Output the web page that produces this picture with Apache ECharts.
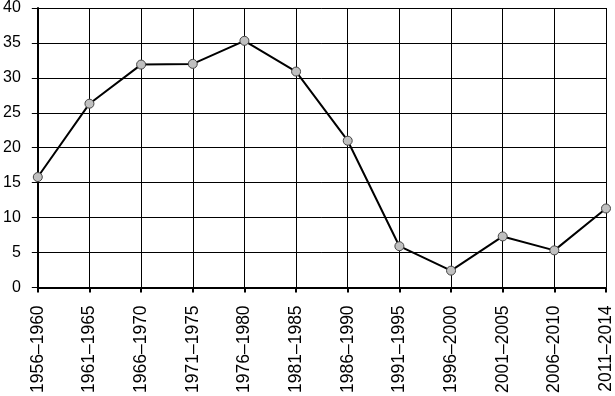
<!DOCTYPE html>
<html><head><meta charset="utf-8">
<script src="https://cdn.jsdelivr.net/npm/echarts@6/dist/echarts.min.js"></script>
<style>html,body{margin:0;padding:0;background:#fff}#c{width:615px;height:396px}</style>
</head><body><div id="c"></div>
<script>
const categories = ['1956–1960','1961–1965','1966–1970','1971–1975','1976–1980','1981–1985','1986–1990','1991–1995','1996–2000','2001–2005','2006–2010','2011–2014'];
const values = [15.8, 26.3, 31.9, 32.0, 35.3, 30.9, 21.0, 5.9, 2.4, 7.3, 5.3, 11.3];
const yTicks = [0,5,10,15,20,25,30,35,40];

const chart = echarts.init(document.getElementById('c'), null, {renderer:'canvas'});
chart.setOption({
  animation:false,
  backgroundColor:'#fff',
  grid:{left:37,right:5,top:8,bottom:108,containLabel:false},
  xAxis:{type:'category',data:categories,boundaryGap:false,
    axisLine:{lineStyle:{color:'#000',width:2}},
    axisTick:{show:true,length:5,lineStyle:{color:'#000',width:2}},
    axisLabel:{rotate:90,color:'#000',fontFamily:'Liberation Sans, Arial',fontSize:17.5,margin:18,interval:0},
    splitLine:{show:true,lineStyle:{color:'#000',width:1}}},
  yAxis:{type:'value',min:yTicks[0],max:yTicks[yTicks.length-1],interval:5,
    axisLine:{show:true,lineStyle:{color:'#000',width:2}},
    axisTick:{show:true,length:6,lineStyle:{color:'#000',width:1}},
    axisLabel:{color:'#000',fontFamily:'Liberation Sans, Arial',fontSize:16,margin:17},
    splitLine:{show:true,lineStyle:{color:'#000',width:1}}},
  series:[{type:'line',data:values,symbol:'circle',symbolSize:9,
    lineStyle:{color:'#000',width:2},
    itemStyle:{color:'#c0c0c0',borderColor:'#444',borderWidth:1}}]
});
</script></body></html>
